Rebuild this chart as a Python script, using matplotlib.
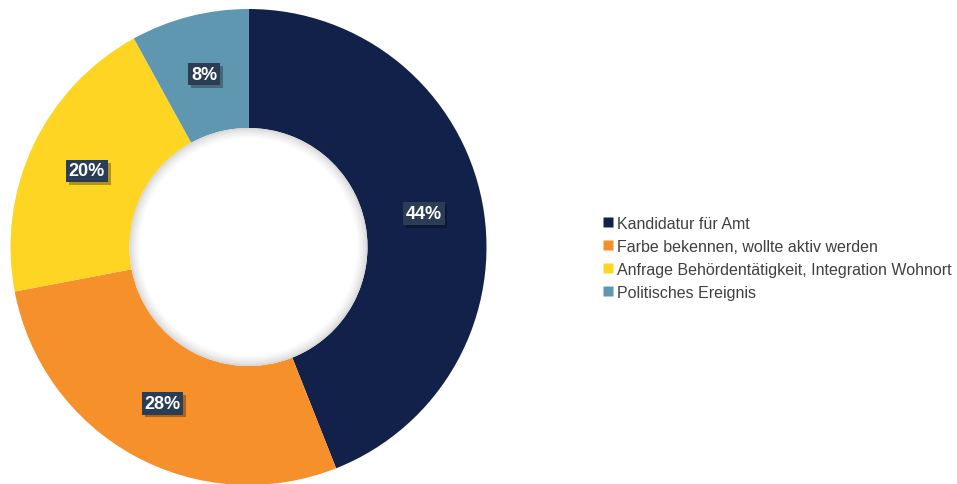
import matplotlib
matplotlib.use("Agg")
import matplotlib.pyplot as plt
from matplotlib.patches import Circle
from matplotlib.lines import Line2D
import matplotlib.patheffects as pe
import numpy as np

plt.rcParams['font.family'] = ['Liberation Sans', 'DejaVu Sans']

categories = ["Kandidatur für Amt", "Farbe bekennen, wollte aktiv werden",
              "Anfrage Behördentätigkeit, Integration Wohnort", "Politisches Ereignis"]
values = [44, 28, 20, 8]
labels = ["44%", "28%", "20%", "8%"]
colors = ["#12214a", "#f6902b", "#fdd522", "#6097b0"]

W, H = 957, 485
fig = plt.figure(figsize=(W / 100, H / 100), dpi=100)
ax = fig.add_axes([0, 0, 1, 1])

cx, cy = 248.5, H - 248
R = 238
r_in = 119

wedges, _ = ax.pie(values, colors=colors, startangle=90, counterclock=False,
                   center=(cx, cy), radius=R,
                   wedgeprops=dict(width=R - r_in, linewidth=0))

# soft inner shadow of the hole
n = 12
for i, rr in enumerate(np.linspace(r_in, r_in - 10, n)):
    g = 0.84 + 0.16 * (i / (n - 1)) ** 0.7
    ax.add_patch(Circle((cx, cy), rr, facecolor=(g, g, g), edgecolor='none', zorder=3))
ax.add_patch(Circle((cx, cy), r_in - 10, facecolor='white', edgecolor='none', zorder=3))

# data labels
total = sum(values)
start = 90
rmid = (R + r_in) / 2
for v, lab in zip(values, labels):
    ang = np.deg2rad(start - v / total * 360 / 2)
    start -= v / total * 360
    x = cx + rmid * np.cos(ang)
    y = cy + rmid * np.sin(ang)
    t = ax.text(x, y, lab, ha='center', va='center', color='white', fontsize=13,
                fontweight='bold', zorder=5,
                bbox=dict(boxstyle='square,pad=0.15', facecolor='#2a3d55', edgecolor='none'))
    t.get_bbox_patch().set_path_effects([
        pe.SimplePatchShadow(offset=(2, -2), shadow_rgbFace='black', alpha=0.3),
        pe.Normal()])

ax.set_xlim(0, W)
ax.set_ylim(0, H)
ax.set_aspect('equal')
ax.axis('off')

handles = [Line2D([], [], marker='s', linestyle='none', markersize=7,
                  markerfacecolor=c, markeredgecolor='none') for c in colors]
fig.legend(handles, categories, loc='center left', bbox_to_anchor=(0.615, 0.466),
           frameon=False, fontsize=11.5, handlelength=0.6, handletextpad=0.3,
           labelspacing=0.5, labelcolor='#404040')

fig.savefig("out.png", dpi=100, facecolor='white')
